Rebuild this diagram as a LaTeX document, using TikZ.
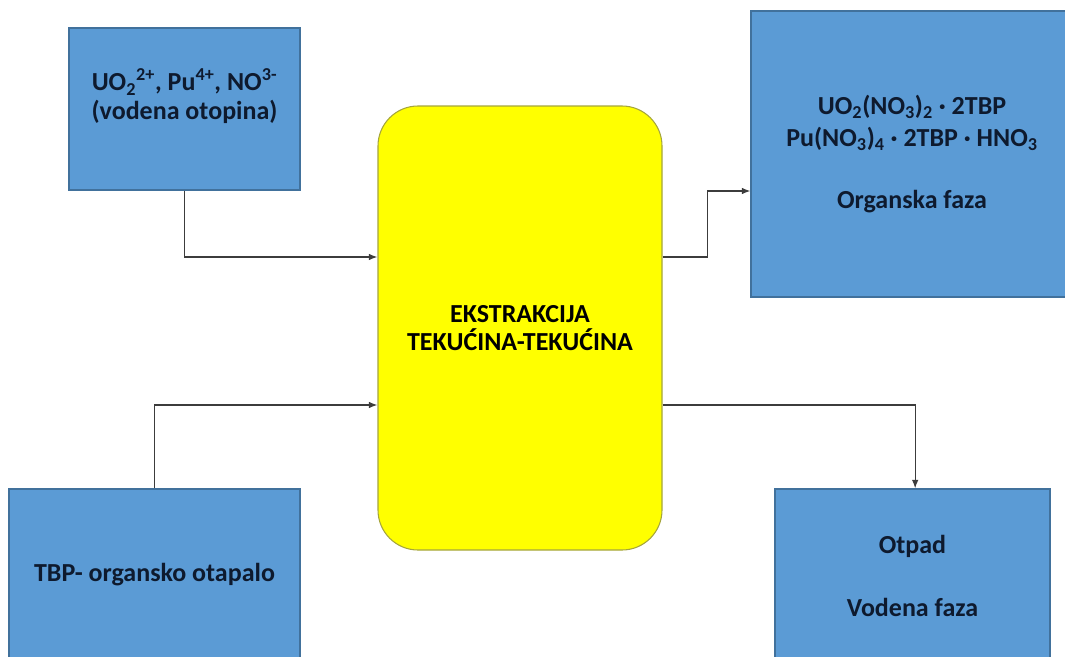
\documentclass[tikz,border=0pt]{standalone}
\usepackage{fontspec}
\setmainfont{Carlito}
\usetikzlibrary{arrows.meta}

\definecolor{boxblue}{HTML}{5B9BD5}
\definecolor{boxedge}{HTML}{41719C}
\definecolor{extyellow}{HTML}{FFFF00}
\definecolor{extedge}{HTML}{A5A53C}
\definecolor{labelnavy}{HTML}{0E1A2E}
\definecolor{flowgray}{HTML}{3C3C3C}

\begin{document}
\begin{tikzpicture}[x=0.75pt,y=-0.75pt,>={Latex[length=6.5pt,width=5pt]},
    bluebox/.style={draw=boxedge, fill=boxblue, line width=0.8pt, inner sep=0pt,
      text=labelnavy, align=center, font=\bfseries\fontsize{19.5}{21.75}\selectfont},
    extbox/.style={draw=extedge, fill=extyellow, line width=0.8pt, rounded corners=30pt,
      inner sep=0pt, text=black, align=center, font=\bfseries\fontsize{19.5}{21.4}\selectfont},
    flow/.style={->, draw=flowgray, line width=1pt}]
      \useasboundingbox (0,0) rectangle (1065,657);
      \clip (0,0) rectangle (1065,657);

      \node[bluebox, minimum width=173.25pt, minimum height=121.5pt] (ions) at (184.5,109)
        {UO\textsubscript{2}\textsuperscript{2+}, Pu\textsuperscript{4+}, NO\textsuperscript{3-}\\(vodena otopina)\\\mbox{}};
      \node[bluebox, minimum width=218.25pt, minimum height=129pt] (tbp) at (154.5,575)
        {TBP- organsko otapalo};

      \node[extbox, minimum width=213pt, minimum height=333pt] (ex) at (520,328)
        {EKSTRAKCIJA\\TEKUĆINA-TEKUĆINA};

      \node[bluebox, font=\bfseries\fontsize{19.5}{24}\selectfont,
        minimum width=241.5pt, minimum height=214.5pt] (org) at (912,154)
        {UO\textsubscript{2}(NO\textsubscript{3})\textsubscript{2} · 2TBP\\
         Pu(NO\textsubscript{3})\textsubscript{4} · 2TBP · HNO\textsubscript{3}\\[22.5pt]
         Organska faza};
      \node[bluebox, font=\bfseries\fontsize{19.5}{23.6}\selectfont,
        minimum width=206.25pt, minimum height=130.5pt] (otp) at (912.5,576)
        {Otpad\\[23.6pt]Vodena faza};

      \draw[flow] (ions.south) |- ([yshift=53.25pt]ex.west);
      \draw[flow] (tbp.north) |- ([yshift=-57.75pt]ex.west);
      \draw[flow] ([yshift=53.25pt]ex.east) -- ++(45,0) |- ([yshift=-27.75pt]org.west);
      \draw[flow] ([yshift=-57.75pt]ex.east) -| ([xshift=2pt]otp.north);
\end{tikzpicture}
\end{document}
